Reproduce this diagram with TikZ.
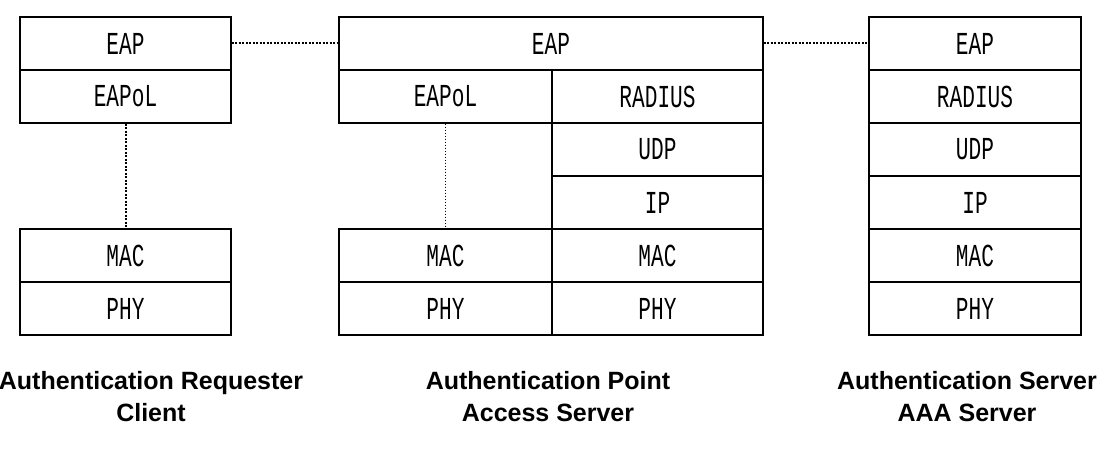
\documentclass[tikz,border=0pt]{standalone}
\usepackage{fontspec}
\setmainfont{Liberation Sans}
\newfontfamily\stackfont[FakeStretch=0.66]{Liberation Mono}
\usepackage{tikz}

\begin{document}
\begin{tikzpicture}[
  x=1pt, y=-1pt,
  layer/.style={rectangle, draw=black, line width=1.3pt, inner sep=0pt,
                minimum height=53pt, font=\stackfont\fontsize{32}{32}\selectfont},
  link/.style={line width=2pt, dash pattern=on 2pt off 1.5pt},
  caption/.style={font=\bfseries\fontsize{25}{32}\selectfont, align=center},
]
  \useasboundingbox (0,0) rectangle (1114,465);

  % requester
  \node[layer, minimum width=211pt] (c-eap)   at (125.5,43.5)  {EAP};
  \node[layer, minimum width=211pt] (c-eapol) at (125.5,96.5)  {EAPoL};
  \node[layer, minimum width=211pt] (c-mac)   at (125.5,255.5) {MAC};
  \node[layer, minimum width=211pt] (c-phy)   at (125.5,308.5) {PHY};

  % access point
  \node[layer, minimum width=424pt] (p-eap)    at (551,43.5)    {EAP};
  \node[layer, minimum width=213pt] (p-eapol)  at (445.5,96.5)  {EAPoL};
  \node[layer, minimum width=213pt] (p-mac1)   at (445.5,255.5) {MAC};
  \node[layer, minimum width=213pt] (p-phy1)   at (445.5,308.5) {PHY};
  \node[layer, minimum width=211pt] (p-radius) at (657.5,96.5)  {RADIUS};
  \node[layer, minimum width=211pt] (p-udp)    at (657.5,149.5) {UDP};
  \node[layer, minimum width=211pt] (p-ip)     at (657.5,202.5) {IP};
  \node[layer, minimum width=211pt] (p-mac2)   at (657.5,255.5) {MAC};
  \node[layer, minimum width=211pt] (p-phy2)   at (657.5,308.5) {PHY};

  % server
  \node[layer, minimum width=212pt] (s-eap)    at (975,43.5)  {EAP};
  \node[layer, minimum width=212pt] (s-radius) at (975,96.5)  {RADIUS};
  \node[layer, minimum width=212pt] (s-udp)    at (975,149.5) {UDP};
  \node[layer, minimum width=212pt] (s-ip)     at (975,202.5) {IP};
  \node[layer, minimum width=212pt] (s-mac)    at (975,255.5) {MAC};
  \node[layer, minimum width=212pt] (s-phy)    at (975,308.5) {PHY};

  % peer links
  \draw[link] (c-eap) -- (p-eap);
  \draw[link] (p-eap) -- (s-eap);
  \draw[link] (c-eapol) -- (c-mac);
  \draw[link, line width=1.2pt, dash pattern=on 1.5pt off 1.5pt] (p-eapol) -- (p-mac1);

  \node[caption] (c-cap) at (151,397) {Authentication Requester\\Client};
  \node[caption] (p-cap) at (548,397) {Authentication Point\\Access Server};
  \node[caption] (s-cap) at (967,397) {Authentication Server\\AAA Server};
\end{tikzpicture}
\end{document}
